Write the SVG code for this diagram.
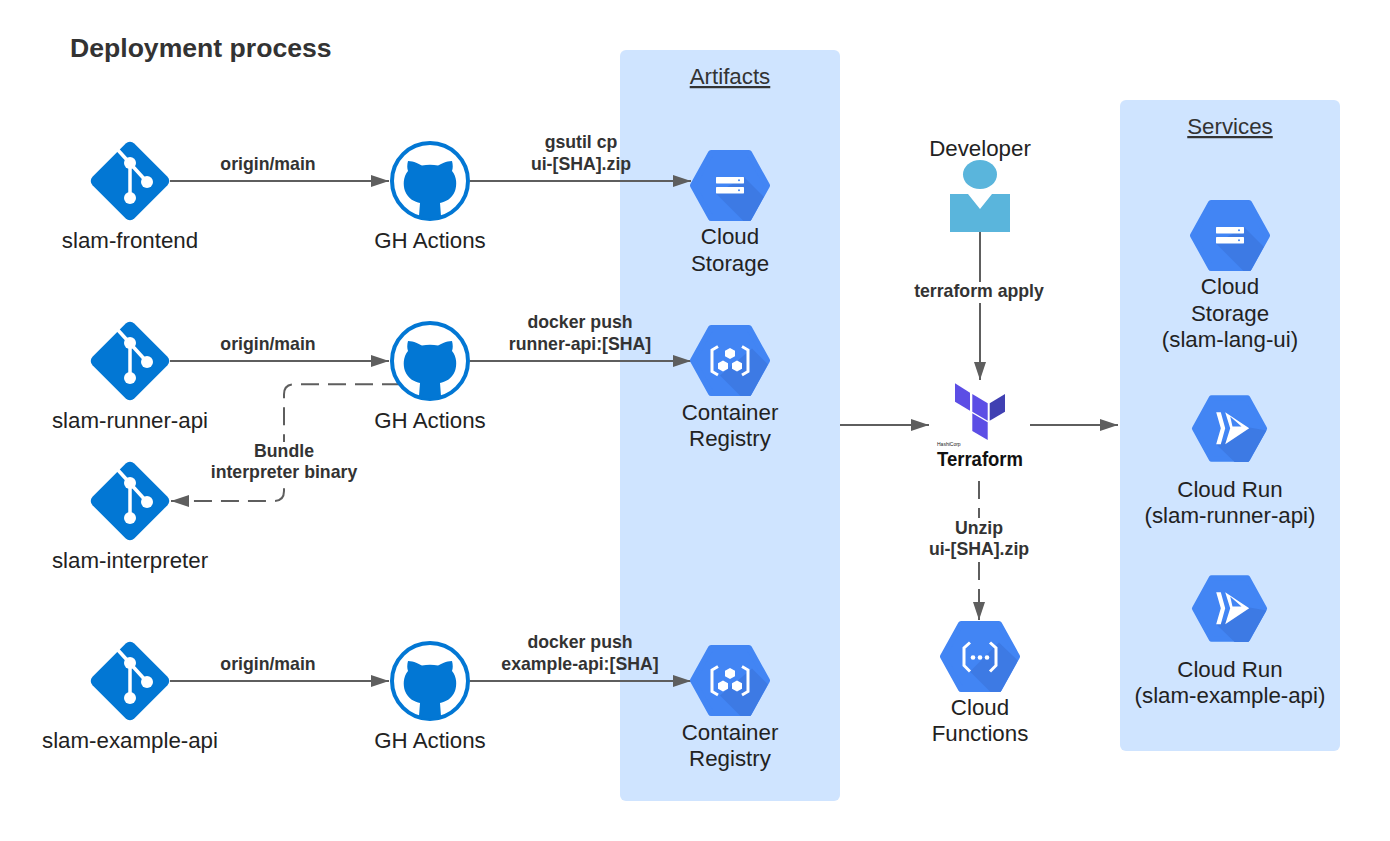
<svg xmlns="http://www.w3.org/2000/svg" width="1390" height="841" viewBox="0 0 1390 841">
<style>
text{font-family:"Liberation Sans",Arial,sans-serif}
.n{font-size:22.3px;fill:#222;text-anchor:middle}
.h{font-size:22.3px;fill:#333;text-anchor:middle;text-decoration:underline}
.l{font-size:17.7px;font-weight:bold;fill:#333;text-anchor:middle}
.c{fill:none;stroke:#5e5e5e;stroke-width:2}
.d{stroke-dasharray:18 9}
.p{fill:#cfe4ff}
</style>
<defs>
<marker id="a" markerUnits="userSpaceOnUse" markerWidth="18" markerHeight="12" refX="18" refY="6" orient="auto"><path d="M0 0L18 6L0 12Z" fill="#5e5e5e"/></marker>
<clipPath id="hc"><polygon points="-40,0 -20.5,-35.5 20.5,-35.5 40,0 20.5,35.5 -20.5,35.5"/></clipPath>
<g id="git">
<rect x="-29.500" y="-29.500" width="59" height="59" rx="6" transform="rotate(45)" fill="#0277d4"/>
<path d="M-13-32L17 1M0-18V17" fill="none" stroke="#fff" stroke-width="3.500"/>
<circle cx="0" cy="-18" r="6" fill="#fff"/><circle cx="17" cy="1" r="6" fill="#fff"/><circle cx="0" cy="17" r="6" fill="#fff"/>
</g>
<g id="gh">
<circle r="38" fill="#fff" stroke="#0277d4" stroke-width="4"/>
<path d="M-22-20C-16-20-11-17-8-15.500C-3-16.500 3-16.500 8-15.500C11-17 16-20 22-20C23-16 23-13 22-10C27-4 27 4 25 10C22 18 15 21 10 22L11 35C6 39-6 39-11 35L-10 22C-15 21-22 18-25 10C-27 4-27-4-22-10C-23-13-23-16-22-20Z" fill="#0277d4"/>
</g>
<polygon id="hex" points="-37,0 -19,-32.5 19,-32.5 37,0 19,32.5 -19,32.5" fill="#4285f4" stroke="#4285f4" stroke-width="6" stroke-linejoin="round"/>
<g id="storage">
<use href="#hex"/>
<polygon points="14,-8.500 45,22.500 20,40 14,36 -14,8" fill="#3d7ae4" clip-path="url(#hc)"/>
<rect x="-14" y="-8.500" width="28" height="6.400" rx=".6" fill="#fff"/><rect x="-14" y="1.500" width="28" height="6.400" rx=".6" fill="#fff"/>
<circle cx="9" cy="-5.300" r="1" fill="#4285f4"/><circle cx="9" cy="4.700" r="1" fill="#4285f4"/>
</g>
<g id="registry">
<use href="#hex"/>
<polygon points="-10,15 11,36 45,36 45,11 22,-12" fill="#3d7ae4" clip-path="url(#hc)"/>
<path d="M-12-14L-18-10.500V11L-12 14.500M12-14L18-10.500V11L12 14.500" fill="none" stroke="#fff" stroke-width="3"/>
<polygon points="0,-12.500 5,-9.700 5,-4.300 0,-1.500 -5,-4.300 -5,-9.700" fill="#fff"/>
<polygon points="-7,0 -2,2.800 -2,8.200 -7,11 -12,8.200 -12,2.800" fill="#fff"/>
<polygon points="7,0 12,2.800 12,8.200 7,11 2,8.200 2,2.800" fill="#fff"/>
</g>
<g id="functions">
<use href="#hex"/>
<polygon points="-10,15 11,36 45,36 45,11 19,-14" fill="#3d7ae4" clip-path="url(#hc)"/>
<path d="M-10-14L-16-8.500V9L-10 15M10-14L16-8.500V9L10 15" fill="none" stroke="#fff" stroke-width="3"/>
<circle cx="-7" cy="1" r="2.300" fill="#fff"/><circle cx="0" cy="1" r="2.300" fill="#fff"/><circle cx="7" cy="1" r="2.300" fill="#fff"/>
</g>
<g id="run">
<use href="#hex" transform="scale(.94)"/>
<polygon points="-13,16 5,33.500 19,33.500 37,2 20,-1" fill="#3d7ae4" clip-path="url(#hc)"/>
<polygon points="-13.300,-16.300 -8.700,-16.300 -4.300,-.3 -8.700,15.700 -13.300,15.700 -8.700,-.3" fill="#fff"/>
<polygon points="-4.300,-16.300 19.700,-.3 -4.300,15.700 .7,-.3" fill="#fff"/>
<polygon points=".7,-12 12,-2 3,-2" fill="#4285f4"/>
</g>
</defs>
<rect width="1390" height="841" fill="#fff"/>
<text x="70" y="57" font-size="26.600" font-weight="bold" fill="#333">Deployment process</text>
<g id="artifacts"><rect class="p" x="620" y="50" width="220" height="751" rx="6"/><text class="h" x="730" y="84">Artifacts</text></g>
<g id="services"><rect class="p" x="1120" y="100" width="220" height="651" rx="6"/><text class="h" x="1230" y="134">Services</text></g>
<g id="connectors">
<path class="c" d="M170 181H389" marker-end="url(#a)"/>
<path class="c" d="M470 181H691" marker-end="url(#a)"/>
<path class="c" d="M170 361H389" marker-end="url(#a)"/>
<path class="c" d="M470 361H691" marker-end="url(#a)"/>
<path class="c" d="M170 681H389" marker-end="url(#a)"/>
<path class="c" d="M470 681H691" marker-end="url(#a)"/>
<path class="c d" d="M400 384.300H294Q284 384.300 284 394.300V491Q284 501 274 501H171" marker-end="url(#a)"/>
<path class="c" d="M840 425H929" marker-end="url(#a)"/>
<path class="c" d="M1030 425H1118" marker-end="url(#a)"/>
<path class="c" d="M980 232V380" marker-end="url(#a)"/>
<path class="c d" d="M979 481V620" marker-end="url(#a)"/>
<rect x="206" y="442" width="156" height="42" fill="#fff"/>
<rect x="912" y="282" width="134" height="21" fill="#fff"/>
<rect x="925" y="518" width="108" height="43" fill="#fff"/>
<text class="l" x="268" y="170">origin/main</text>
<text class="l" x="268" y="350">origin/main</text>
<text class="l" x="268" y="670">origin/main</text>
<text class="l" x="581" y="148">gsutil cp</text><text class="l" x="581" y="170">ui-[SHA].zip</text>
<text class="l" x="580" y="328">docker push</text><text class="l" x="580" y="350">runner-api:[SHA]</text>
<text class="l" x="580" y="648">docker push</text><text class="l" x="580" y="670">example-api:[SHA]</text>
<text class="l" x="284" y="457">Bundle</text><text class="l" x="284" y="478">interpreter binary</text>
<text class="l" x="979" y="297">terraform apply</text>
<text class="l" x="979" y="534">Unzip</text><text class="l" x="979" y="555">ui-[SHA].zip</text>
</g>
<g id="git-frontend"><use href="#git" x="130" y="181"/><text class="n" x="130" y="248">slam-frontend</text></g>
<g id="git-runner"><use href="#git" x="130" y="361"/><text class="n" x="130" y="428">slam-runner-api</text></g>
<g id="git-interpreter"><use href="#git" x="130" y="501"/><text class="n" x="130" y="568">slam-interpreter</text></g>
<g id="git-example"><use href="#git" x="130" y="681"/><text class="n" x="130" y="748">slam-example-api</text></g>
<g id="gh-1"><use href="#gh" x="430" y="181"/><text class="n" x="430" y="248">GH Actions</text></g>
<g id="gh-2"><use href="#gh" x="430" y="361"/><text class="n" x="430" y="428">GH Actions</text></g>
<g id="gh-3"><use href="#gh" x="430" y="681"/><text class="n" x="430" y="748">GH Actions</text></g>
<g id="storage-1"><use href="#storage" x="730" y="185.500"/><text class="n" x="730" y="244">Cloud</text><text class="n" x="730" y="271">Storage</text></g>
<g id="registry-1"><use href="#registry" x="730" y="360.500"/><text class="n" x="730" y="420">Container</text><text class="n" x="730" y="446">Registry</text></g>
<g id="registry-2"><use href="#registry" x="730" y="680.500"/><text class="n" x="730" y="740">Container</text><text class="n" x="730" y="766">Registry</text></g>
<g id="developer"><text class="n" x="980" y="156">Developer</text>
<ellipse cx="980" cy="174.500" rx="17" ry="14.500" fill="#5ab5dc"/>
<polygon points="950,194 968,194 980,209 992,194 1010,194 1010,232 950,232" fill="#5ab5dc"/></g>
<g id="terraform">
<polygon points="955,383.300 970,392.700 970,410.700 955,401.700" fill="#5c4ee5"/>
<polygon points="972.300,394 987.700,403.300 987.700,420.700 972.300,411.700" fill="#5c4ee5"/>
<polygon points="972.300,413.300 987.700,422.300 987.700,440 972.300,431" fill="#5c4ee5"/>
<polygon points="989.700,403.300 1005,394 1005,411.700 989.700,420.700" fill="#4040b2"/>
<text x="937" y="446.400" font-size="5" fill="#222">HashiCorp</text>
<text x="937" y="466" font-size="20.500" font-weight="bold" fill="#111" textLength="86" lengthAdjust="spacingAndGlyphs">Terraform</text>
</g>
<g id="functions-1"><use href="#functions" x="980" y="656.500"/><text class="n" x="980" y="715">Cloud</text><text class="n" x="980" y="741">Functions</text></g>
<g id="storage-2"><use href="#storage" x="1230" y="235.500"/><text class="n" x="1230" y="294">Cloud</text><text class="n" x="1230" y="321">Storage</text><text class="n" x="1230" y="347">(slam-lang-ui)</text></g>
<g id="run-1"><use href="#run" x="1229.500" y="428.500"/><text class="n" x="1230" y="497">Cloud Run</text><text class="n" x="1230" y="523">(slam-runner-api)</text></g>
<g id="run-2"><use href="#run" x="1229.500" y="608.500"/><text class="n" x="1230" y="677">Cloud Run</text><text class="n" x="1230" y="703">(slam-example-api)</text></g>
</svg>
